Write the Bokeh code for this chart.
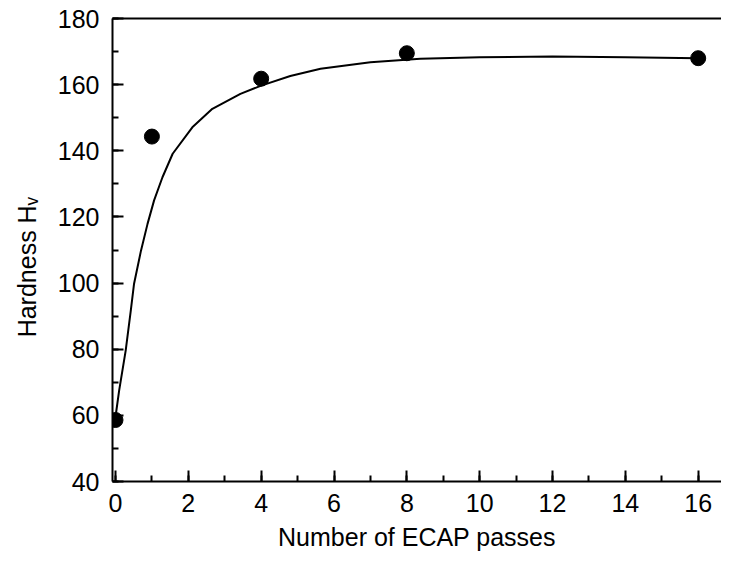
from bokeh.plotting import figure
from bokeh.models import Range1d, LinearAxis, FixedTicker
from bokeh.embed import file_html
from bokeh.resources import INLINE

# measured data
passes = [0, 1, 4, 8, 16]
hardness = [58.6, 144.3, 161.8, 169.5, 168.0]

# fitted curve
fit_x = [0.0, 0.10, 0.28, 0.42, 0.51, 0.70, 0.88, 1.06, 1.29, 1.57, 2.11, 2.66,
         3.43, 4.0, 4.8, 5.63, 7.0, 8.37, 10.0, 12.0, 14.0, 16.0]
fit_y = [59.5, 67.5, 79.6, 91.7, 99.8, 109.8, 117.9, 125.0, 132.0, 139.1, 147.1, 152.7,
         157.2, 159.7, 162.6, 164.8, 166.8, 167.8, 168.3, 168.5, 168.3, 168.0]

x_ticks = [0, 2, 4, 6, 8, 10, 12, 14, 16]
y_ticks = [40, 60, 80, 100, 120, 140, 160, 180]

FONT = "Liberation Sans"

p = figure(width=721, height=557, output_backend="svg", toolbar_location=None,
           x_range=Range1d(-0.082, 16.64), y_range=Range1d(40, 180),
           min_border_left=112, min_border_right=0, min_border_top=18, min_border_bottom=76)
p.outline_line_color = None
p.background_fill_color = "white"
p.border_fill_color = "white"
p.grid.visible = False

for ax in (p.xaxis[0], p.yaxis[0]):
    ax.axis_line_width = 2
    ax.axis_line_color = "black"
    ax.major_tick_line_width = 2
    ax.minor_tick_line_width = 2
    ax.major_tick_line_color = "black"
    ax.minor_tick_line_color = "black"
    ax.major_tick_in = 11
    ax.major_tick_out = 0
    ax.minor_tick_in = 6
    ax.minor_tick_out = 0
    ax.major_label_text_font = FONT
    ax.major_label_text_font_size = "25px"
    ax.major_label_text_color = "black"
    ax.axis_label_text_font = FONT
    ax.axis_label_text_font_size = "25px"
    ax.axis_label_text_font_style = "normal"
    ax.axis_label_text_color = "black"

p.xaxis[0].ticker = FixedTicker(ticks=x_ticks, minor_ticks=list(range(0, 17)))
p.yaxis[0].ticker = FixedTicker(ticks=y_ticks, minor_ticks=list(range(40, 181, 10)))
p.xaxis[0].major_label_standoff = 12
p.yaxis[0].major_label_standoff = 13
p.xaxis[0].axis_label = "Number of ECAP passes"
p.xaxis[0].axis_label_standoff = 8
# subscript v, trailing no-break spaces shift the centred label down as in the original
p.yaxis[0].axis_label = "Hardness H\u1d65\u00a0\u00a0\u00a0\u00a0\u00a0"
p.yaxis[0].axis_label_standoff = 14

top = LinearAxis(ticker=FixedTicker(ticks=[]), axis_line_width=2, axis_line_color="black",
                 major_tick_in=0, major_tick_out=0, minor_tick_in=0, minor_tick_out=0,
                 major_label_text_font_size="0px")
p.add_layout(top, "above")

p.line(fit_x, fit_y, line_color="black", line_width=2)
p.scatter(passes, hardness, marker="circle", size=15, fill_color="black", line_color="black")

open("out.html", "w").write(file_html(p, INLINE))
